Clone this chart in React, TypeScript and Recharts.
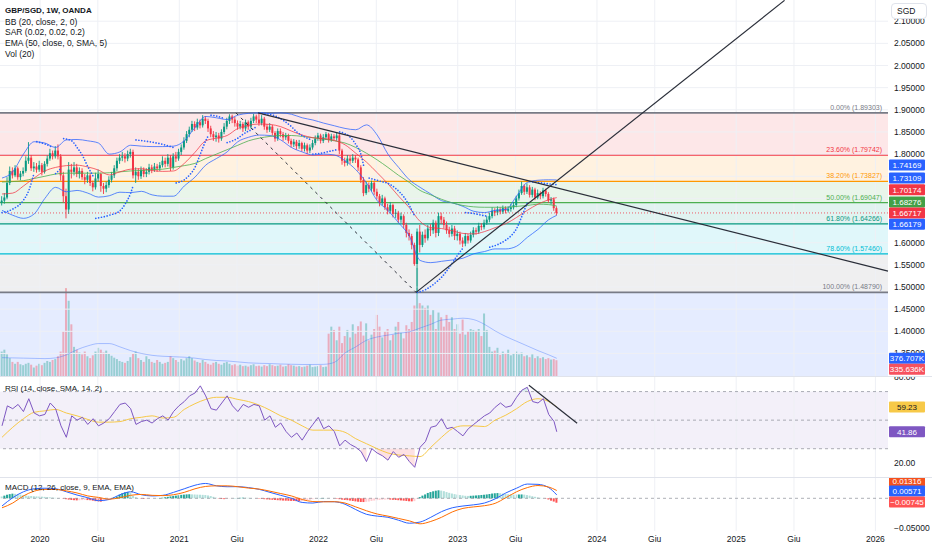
import React from 'react';
import { ComposedChart, Bar, Line, Area, XAxis, YAxis, ReferenceLine, ReferenceArea } from 'recharts';

const FONT = "'Liberation Sans', Arial, sans-serif";
const TEXT = '#131722';
const UP = '#089981';
const DOWN = '#f23645';
const BLUE = '#2962ff';

// weekly GBP/SGD candles, late Sep 2019 -> mid Sep 2023 (open = previous close)
const firstOpen = 1.69;
const closes = [
  1.695, 1.702, 1.735, 1.762, 1.752, 1.768, 1.748, 1.756, 1.762, 1.785,
  1.792, 1.768, 1.772, 1.765, 1.775, 1.760, 1.778, 1.790, 1.802, 1.795,
  1.808, 1.795, 1.752, 1.705, 1.675, 1.765, 1.760, 1.770, 1.755, 1.762,
  1.748, 1.742, 1.752, 1.735, 1.725, 1.745, 1.755, 1.728, 1.722, 1.730,
  1.742, 1.752, 1.768, 1.785, 1.792, 1.795, 1.790, 1.800, 1.805, 1.752,
  1.760, 1.750, 1.765, 1.755, 1.760, 1.770, 1.765, 1.772, 1.768, 1.775,
  1.785, 1.778, 1.792, 1.770, 1.795, 1.790, 1.805, 1.815, 1.830, 1.845,
  1.855, 1.868, 1.860, 1.872, 1.865, 1.880, 1.875, 1.858, 1.845, 1.838,
  1.842, 1.835, 1.850, 1.862, 1.875, 1.885, 1.878, 1.870, 1.862, 1.868,
  1.858, 1.872, 1.862, 1.875, 1.885, 1.878, 1.870, 1.880, 1.862, 1.855,
  1.862, 1.848, 1.835, 1.852, 1.845, 1.838, 1.842, 1.830, 1.822, 1.828,
  1.818, 1.825, 1.812, 1.820, 1.808, 1.815, 1.825, 1.835, 1.842, 1.830,
  1.838, 1.845, 1.832, 1.840, 1.836, 1.842, 1.808, 1.785, 1.780, 1.790,
  1.785, 1.792, 1.788, 1.770, 1.742, 1.712, 1.730, 1.722, 1.735, 1.715,
  1.705, 1.690, 1.700, 1.680, 1.672, 1.685, 1.665, 1.668, 1.652, 1.660,
  1.640, 1.622, 1.615, 1.595, 1.552, 1.625, 1.595, 1.618, 1.610, 1.632,
  1.628, 1.645, 1.622, 1.660, 1.652, 1.640, 1.628, 1.620, 1.632, 1.615,
  1.620, 1.605, 1.598, 1.615, 1.605, 1.618, 1.628, 1.625, 1.638, 1.635,
  1.645, 1.652, 1.660, 1.672, 1.668, 1.675, 1.670, 1.678, 1.672, 1.676,
  1.680, 1.685, 1.700, 1.712, 1.728, 1.715, 1.725, 1.708, 1.720, 1.702,
  1.712, 1.705, 1.718, 1.710, 1.695, 1.698, 1.678, 1.66717,
];
const highs = [
  1.705, 1.712, 1.748, 1.772, 1.770, 1.775, 1.772, 1.762, 1.770, 1.795,
  1.827, 1.798, 1.782, 1.780, 1.785, 1.780, 1.784, 1.797, 1.812, 1.808,
  1.818, 1.822, 1.800, 1.760, 1.722, 1.782, 1.778, 1.782, 1.778, 1.770,
  1.768, 1.755, 1.760, 1.756, 1.740, 1.758, 1.765, 1.758, 1.735, 1.738,
  1.750, 1.760, 1.775, 1.792, 1.800, 1.805, 1.802, 1.808, 1.812, 1.810,
  1.770, 1.768, 1.772, 1.770, 1.768, 1.778, 1.776, 1.780, 1.778, 1.782,
  1.795, 1.792, 1.800, 1.798, 1.802, 1.805, 1.812, 1.822, 1.838, 1.852,
  1.862, 1.875, 1.874, 1.880, 1.878, 1.888, 1.886, 1.880, 1.864, 1.852,
  1.850, 1.848, 1.856, 1.870, 1.882, 1.890, 1.889, 1.884, 1.876, 1.875,
  1.872, 1.878, 1.876, 1.882, 1.891, 1.889, 1.893, 1.888, 1.884, 1.868,
  1.870, 1.866, 1.852, 1.858, 1.858, 1.850, 1.848, 1.846, 1.835, 1.834,
  1.832, 1.832, 1.828, 1.826, 1.824, 1.822, 1.832, 1.842, 1.848, 1.846,
  1.845, 1.850, 1.848, 1.846, 1.845, 1.848, 1.846, 1.812, 1.792, 1.798,
  1.796, 1.800, 1.798, 1.792, 1.775, 1.748, 1.738, 1.736, 1.740, 1.738,
  1.722, 1.710, 1.708, 1.704, 1.688, 1.692, 1.688, 1.676, 1.672, 1.668,
  1.664, 1.645, 1.630, 1.620, 1.600, 1.632, 1.640, 1.625, 1.630, 1.640,
  1.642, 1.652, 1.650, 1.668, 1.668, 1.658, 1.648, 1.636, 1.640, 1.638,
  1.628, 1.625, 1.612, 1.622, 1.620, 1.625, 1.635, 1.634, 1.645, 1.644,
  1.652, 1.660, 1.668, 1.680, 1.678, 1.682, 1.680, 1.684, 1.682, 1.682,
  1.688, 1.692, 1.706, 1.720, 1.738, 1.732, 1.734, 1.730, 1.726, 1.724,
  1.720, 1.716, 1.724, 1.722, 1.714, 1.703, 1.702, 1.682,
];
const lows = [
  1.684, 1.688, 1.698, 1.730, 1.745, 1.748, 1.742, 1.741, 1.750, 1.758,
  1.778, 1.762, 1.760, 1.758, 1.760, 1.752, 1.756, 1.772, 1.785, 1.788,
  1.790, 1.788, 1.740, 1.690, 1.655, 1.665, 1.745, 1.752, 1.748, 1.745,
  1.742, 1.732, 1.735, 1.728, 1.716, 1.720, 1.738, 1.715, 1.710, 1.714,
  1.724, 1.736, 1.746, 1.762, 1.778, 1.784, 1.781, 1.784, 1.792, 1.745,
  1.735, 1.742, 1.744, 1.748, 1.748, 1.754, 1.757, 1.760, 1.760, 1.762,
  1.770, 1.770, 1.772, 1.762, 1.765, 1.782, 1.785, 1.798, 1.810, 1.825,
  1.838, 1.850, 1.852, 1.855, 1.858, 1.860, 1.868, 1.850, 1.838, 1.830,
  1.828, 1.826, 1.830, 1.845, 1.856, 1.868, 1.870, 1.862, 1.855, 1.856,
  1.850, 1.852, 1.855, 1.858, 1.870, 1.870, 1.864, 1.865, 1.855, 1.848,
  1.850, 1.842, 1.828, 1.830, 1.838, 1.830, 1.832, 1.824, 1.815, 1.816,
  1.810, 1.812, 1.806, 1.806, 1.800, 1.802, 1.810, 1.820, 1.830, 1.824,
  1.825, 1.832, 1.826, 1.828, 1.830, 1.830, 1.800, 1.776, 1.772, 1.774,
  1.778, 1.780, 1.780, 1.762, 1.735, 1.705, 1.708, 1.714, 1.716, 1.708,
  1.698, 1.682, 1.684, 1.674, 1.664, 1.666, 1.657, 1.656, 1.645, 1.645,
  1.632, 1.612, 1.605, 1.585, 1.548, 1.4879, 1.578, 1.590, 1.600, 1.605,
  1.615, 1.620, 1.612, 1.615, 1.642, 1.632, 1.620, 1.612, 1.614, 1.606,
  1.605, 1.596, 1.590, 1.592, 1.598, 1.600, 1.612, 1.618, 1.620, 1.628,
  1.630, 1.640, 1.646, 1.655, 1.660, 1.662, 1.664, 1.665, 1.666, 1.668,
  1.670, 1.675, 1.680, 1.695, 1.708, 1.708, 1.710, 1.702, 1.702, 1.696,
  1.698, 1.698, 1.700, 1.704, 1.690, 1.686, 1.672, 1.662,
];
// weekly volume, thousands
const volumes = [
  520, 560, 460, 380, 300, 260, 300, 250, 230, 260, 280, 240, 180, 220, 260, 230, 280, 320, 300, 340, 360, 420, 520,
  950, 1870, 1600, 1100,
  620, 560, 500, 460, 520, 420,
  380, 440, 520, 600, 560, 500,
  540, 480, 430, 390, 360, 320, 300,
  280, 320, 400, 480, 520,
  380, 340, 300, 420, 360, 300, 280, 340, 300, 260,
  280, 300, 420, 380, 340, 300, 360, 330, 380, 420,
  380, 330, 300, 280, 340, 300, 260, 240, 280, 300,
  260, 240, 280, 300, 260, 230, 250, 220, 240, 210,
  220, 200, 230, 250, 210, 220, 200, 230, 210, 250,
  230, 210, 220, 240, 200, 210, 250, 230, 220, 200,
  210, 190, 200, 220, 240, 190, 200, 210, 230, 190, 200,
  900, 1050, 980, 760,
  1050, 700, 850, 980, 820, 1100, 900, 1060, 1160, 860,
  1120, 760, 880, 1000, 1300, 1050, 820, 950, 1000, 760,
  880, 1050, 1150, 920, 800, 1080, 1000, 1150,
  1500, 2300,
  1550, 1500, 1450, 1500, 1300,
  1400, 1000, 1350, 1250, 1050, 1300,
  1150, 1250, 1000, 1100, 900, 1200,
  880, 950, 1000, 980, 960, 1000,
  850, 1330, 980,
  620, 520, 540, 600, 450, 520, 480, 560, 440,
  480, 520, 460, 500, 420, 440, 400, 460, 380, 420,
  380, 400, 360, 380, 350, 360, 335.636,
];
// weekly MACD histogram, x 1e-4
const macdHist = [
  30, 45, 60, 70, 78, 75, 70, 62, 55, 48, 42, 38, 35, 32, 30, 28, 24, 20, 16, 12, 8, 5, 0, -6,
  -15, -22, -28, -32, -35, -33, -30, -28, -30, -32, -40, -48, -55, -57, -50,
  -35, -18, 0, 15, 28, 60, 85, 100, 105, 95, 40, 20, 5, -5, -10,
  -8, -5, -3, 0, 2, 5, 10, 18, 25, 32, 40, 45, 52, 58, 62,
  66, 68, 66, 64, 62, 60, 58, 55, 48, 38, 25, 10, -5, -12, -14,
  -10, -5, 0, 3, 5, 8, 10, 10, 8, 5, 2, -2, -6, -10, -15,
  -18, -22, -25, -28, -32, -35, -38, -40, -42, -44, -45, -48, -50, -48, -42,
  -35, -25, -15, -5, 2, 5, 6, 4, 2, 0, -3, -8, -15, -22, -28,
  -32, -38, -45, -52, -58, -62, -63, -60, -55, -45, -38, -32, -28, -25, -22,
  -20, -22, -25, -28, -32, -36, -40, -45, -50, -52, -48, -10, 20, 45, 65,
  90, 105, 118, 128, 135, 130, 120, 105, 92, 80, 70, 62, 55, 48, 42,
  40, 42, 45, 48, 52, 56, 60, 65, 72, 80, 85, 88, 85, 80, 72,
  68, 64, 62, 62, 64, 65, 62, 55, 45, 35, 25, 15, 8, 2, -5,
  -20, -40, -55, -74.5,
];

// indicator readings sampled every 4 weeks (weeks 0, 4, ... 204, then the last bar)
const bbUpper = [
  1.746, 1.760, 1.800, 1.828, 1.825, 1.815, 1.832, 1.833, 1.830, 1.825,
  1.800, 1.805, 1.820, 1.818, 1.817, 1.817, 1.818, 1.830, 1.860, 1.885,
  1.882, 1.878, 1.888, 1.892, 1.893, 1.892, 1.893, 1.890, 1.882, 1.877,
  1.870, 1.864, 1.858, 1.855, 1.866, 1.843, 1.800, 1.770, 1.742, 1.725,
  1.710, 1.695, 1.690, 1.682, 1.671, 1.668, 1.673, 1.675, 1.705, 1.736,
  1.741, 1.742, 1.74169,
];
const bbBasis = [
  1.710, 1.712, 1.728, 1.746, 1.762, 1.770, 1.774, 1.775, 1.771, 1.764,
  1.753, 1.760, 1.766, 1.767, 1.763, 1.761, 1.762, 1.779, 1.804, 1.830,
  1.836, 1.842, 1.858, 1.865, 1.868, 1.867, 1.862, 1.852, 1.843, 1.837,
  1.835, 1.831, 1.821, 1.802, 1.782, 1.758, 1.733, 1.705, 1.679, 1.648,
  1.634, 1.632, 1.627, 1.621, 1.620, 1.625, 1.634, 1.643, 1.657, 1.673,
  1.687, 1.697, 1.70174,
];
const bbLower = [
  1.673, 1.662, 1.655, 1.665, 1.700, 1.725, 1.715, 1.718, 1.712, 1.703,
  1.706, 1.714, 1.713, 1.716, 1.708, 1.705, 1.705, 1.728, 1.748, 1.775,
  1.790, 1.805, 1.828, 1.838, 1.843, 1.842, 1.832, 1.815, 1.805, 1.798,
  1.800, 1.798, 1.785, 1.765, 1.735, 1.695, 1.673, 1.645, 1.615, 1.560,
  1.555, 1.558, 1.561, 1.565, 1.575, 1.580, 1.586, 1.586, 1.592, 1.612,
  1.630, 1.652, 1.66179,
];
const ema50 = [
  1.737, 1.738, 1.740, 1.745, 1.750, 1.755, 1.757, 1.757, 1.757, 1.757,
  1.758, 1.760, 1.762, 1.763, 1.765, 1.766, 1.770, 1.774, 1.779, 1.790,
  1.800, 1.810, 1.820, 1.830, 1.836, 1.840, 1.842, 1.842, 1.840, 1.837,
  1.834, 1.830, 1.825, 1.815, 1.802, 1.787, 1.770, 1.752, 1.736, 1.718,
  1.708, 1.698, 1.690, 1.684, 1.681, 1.680, 1.680, 1.680, 1.682, 1.684,
  1.687, 1.686, 1.68276,
];
const volMa = [
  390, 385, 380, 375, 370, 385, 450, 560, 640, 690,
  690, 620, 540, 480, 440, 420, 410, 400, 380, 350,
  330, 320, 300, 280, 270, 265, 255, 250, 245, 245,
  248, 290, 490, 620, 760, 830, 870, 910, 940, 1020,
  1100, 1190, 1210, 1230, 1200, 1100, 960, 840, 740, 640,
  540, 450, 376.707,
];
const rsiMa = [
  38, 45, 51, 55.5, 56.5, 57.5, 55, 53, 50.5, 48.6,
  48.6, 49, 51, 52, 53, 51.5, 52, 57.5, 61.5, 64.5,
  66, 66, 64.5, 63, 60.5, 57, 53, 50, 46, 43,
  43, 43, 41.5, 37, 33.5, 30, 27, 25.6, 25, 24.5,
  31, 38, 44, 46, 46, 45.5, 50, 53.5, 58, 63,
  65, 63, 59.23,
];
const macdLine = [
  -0.013, 0.001, 0.011, 0.016, 0.017, 0.016, 0.011, 0.0055, 0.001, -0.004,
  -0.002, 0.006, 0.011, 0.006, 0.004, 0.005, 0.010, 0.016, 0.022, 0.025,
  0.021, 0.0195, 0.0196, 0.018, 0.015, 0.010, 0.005, 0.000, -0.007, -0.008,
  -0.0055, -0.0058, -0.010, -0.019, -0.027, -0.030, -0.032, -0.037, -0.042, -0.040,
  -0.032, -0.0225, -0.016, -0.013, -0.011, -0.008, -0.001, 0.009, 0.017, 0.024,
  0.0235, 0.018, 0.00571,
];
const signalLine = [
  -0.016, -0.008, 0.004, 0.012, 0.015, 0.015, 0.0125, 0.009, 0.004, 0.0015,
  -0.0015, 0.001, 0.005, 0.0065, 0.005, 0.0045, 0.006, 0.010, 0.016, 0.020,
  0.021, 0.021, 0.0195, 0.0172, 0.0155, 0.012, 0.008, 0.004, -0.002, -0.0055,
  -0.006, -0.0057, -0.008, -0.0145, -0.021, -0.0265, -0.030, -0.034, -0.038, -0.043,
  -0.039, -0.032, -0.023, -0.017, -0.0145, -0.0125, -0.0085, 0.001, 0.011, 0.018,
  0.0215, 0.019, 0.01316,
];
// RSI sampled every 2 weeks (weeks 0, 2, ... 206, then the last bar)
const rsi = [
  46, 60, 58, 61, 56, 65, 55, 53, 54, 62,
  58, 46, 38, 53, 50, 52, 47, 51, 46, 48,
  51, 56, 61, 62, 58, 47, 49, 50, 48, 51,
  53, 50, 56, 60, 63, 67, 69, 74, 67, 58,
  57, 62, 67, 60, 56, 61, 59, 61, 60, 50,
  53, 45, 48, 42, 38, 41, 36, 42, 47, 52,
  44, 46, 42, 32, 36, 33, 31, 28, 21, 30,
  27, 25, 22, 28, 24, 26, 21, 17, 31, 35,
  45, 46, 51, 44, 45, 42, 39, 44, 47, 50,
  53, 55, 59, 62, 59, 60, 66, 71, 73, 63,
  62, 65, 54, 49, 41.86,
];

// parabolic SAR runs: [week, value]
const sarSegments: [number, number][][] = [
  [[0, 1.668], [4, 1.676], [8, 1.696], [10, 1.718], [12, 1.758]],
  [[13, 1.828], [16, 1.823], [19, 1.815]],
  [[20, 1.756], [22, 1.768]],
  [[23, 1.835], [26, 1.830], [28, 1.815], [30, 1.797], [32, 1.772], [34, 1.750]],
  [[35, 1.655], [40, 1.662], [44, 1.672], [46, 1.688], [48, 1.712], [49, 1.730]],
  [[50, 1.832], [55, 1.828], [60, 1.822], [64, 1.815]],
  [[65, 1.735], [68, 1.742], [70, 1.753], [72, 1.770], [74, 1.800], [76, 1.830], [77, 1.842]],
  [[78, 1.888], [80, 1.886], [83, 1.880]],
  [[84, 1.826], [86, 1.830], [88, 1.836], [90, 1.845], [92, 1.852], [94, 1.858], [95, 1.863]],
  [[96, 1.893], [99, 1.891], [102, 1.886], [105, 1.876], [108, 1.862], [110, 1.850], [112, 1.842], [115, 1.833]],
  [[116, 1.800], [119, 1.802], [122, 1.806], [125, 1.810]],
  [[126, 1.850], [128, 1.846], [130, 1.838], [132, 1.822], [134, 1.798], [135, 1.772]],
  [[137, 1.746], [141, 1.739], [144, 1.734], [147, 1.722], [150, 1.703], [152, 1.684], [154, 1.660]],
  [[155, 1.4879], [158, 1.494], [161, 1.506], [164, 1.522], [167, 1.545], [170, 1.572], [172, 1.588]],
  [[173, 1.668], [176, 1.666], [179, 1.662], [181, 1.660]],
  [[182, 1.590], [185, 1.596], [188, 1.606], [190, 1.616], [192, 1.632], [194, 1.660], [196, 1.690]],
  [[197, 1.738], [200, 1.736], [203, 1.7335], [207, 1.73109]],
];

// Fibonacci retracement
const fibPercents = ['0.00%', '23.60%', '38.20%', '50.00%', '61.80%', '78.60%', '100.00%'];
const fibPrices = [1.89303, 1.79742, 1.73827, 1.69047, 1.64266, 1.5746, 1.4879];

// drawn trend lines: [week, value]
const resistanceLine: [number, number][] = [[95.5, 1.893], [330.6, 1.536]];
const supportLine: [number, number][] = [[154.5, 1.4879], [292, 2.147]];
const fibDiagonal: [number, number][] = [[87.3, 1.89303], [154.5, 1.4879]];
const rsiTrend: [number, number][] = [[196.6, 74.4], [214.6, 47.8]];

// price labels left visible beside the value badges
const priceTicks = [1.35, 1.4, 1.45, 1.5, 1.55, 1.6, 1.8, 1.85, 1.9, 1.95, 2.0, 2.05, 2.1];
const priceGrid = [1.35, 1.4, 1.45, 1.5, 1.55, 1.6, 1.65, 1.7, 1.75, 1.8, 1.85, 1.9, 1.95, 2.0, 2.05, 2.1];
const timeLabels = ['2020', 'Giu', '2021', 'Giu', '2022', 'Giu', '2023', 'Giu', '2024', 'Giu', '2025', 'Giu', '2026'];
const timeYears = [2020, 2020.415, 2021, 2021.415, 2022, 2022.415, 2023, 2023.415, 2024, 2024.415, 2025, 2025.415, 2026];

// ---- layout
const WEEK_OF_2020 = 14.2;
const WEEKS_PER_YEAR = 51.95;
const X_DOMAIN: [number, number] = [-0.75, 330.6];
const PRICE_DOMAIN: [number, number] = [1.2991, 2.1479];
const VOL_DOMAIN: [number, number] = [0, 8000];
const RSI_DOMAIN: [number, number] = [10.2, 80.2];
const MACD_DOMAIN: [number, number] = [-0.0551, 0.0342];
const BADGE_X = 889;
const fibColors = ['#787b86', '#f23645', '#ff9800', '#4caf50', '#089981', '#00bcd4', '#787b86'];

const last = <T,>(a: T[]) => a[a.length - 1];
const LAST = closes.length - 1;
const gridWeeks = (step: number) => {
  const out: number[] = [];
  for (let w = 0; w < LAST; w += step) out.push(w);
  out.push(LAST);
  return out;
};
const weeks4 = gridWeeks(4);
const weeks2 = gridWeeks(2);
const timeTickWeeks = timeYears.map((t) => WEEK_OF_2020 + (t - 2020) * WEEKS_PER_YEAR);
const minus = (s: string) => s.replace('-', '\u2212');

const mainRows: any[] = closes.map((c, i) => {
  const open = i === 0 ? firstOpen : closes[i - 1];
  return { w: i, open, close: c, high: highs[i], low: lows[i], range: [lows[i], highs[i]], volume: volumes[i] };
});
weeks4.forEach((w, k) => {
  Object.assign(mainRows[w], { bbUpper: bbUpper[k], bbBasis: bbBasis[k], bbLower: bbLower[k], ema: ema50[k], volMa: volMa[k] });
});
sarSegments.forEach((seg, s) => seg.forEach(([w, v]) => { mainRows[w]['sar' + s] = v; }));

const rsiRows = weeks2.map((w, k) => {
  const r = rsi[k];
  const k4 = weeks4.indexOf(w);
  return {
    w,
    rsi: r,
    rsiMa: k4 >= 0 ? rsiMa[k4] : undefined,
    oversold: r < 30 ? [r, 30] : undefined,
    overbought: r > 70 ? [70, r] : undefined,
  };
});

const macdRows: any[] = macdHist.map((h, i) => {
  const prev = i === 0 ? h : macdHist[i - 1];
  const color = h >= 0 ? (h > prev ? '#26a69a' : '#b2dfdb') : (h > prev ? '#ffcdd2' : '#ff5252');
  return { w: i, hist: h / 10000, color };
});
weeks4.forEach((w, k) => Object.assign(macdRows[w], { macd: macdLine[k], signal: signalLine[k] }));

const priceBadges = [
  { value: last(bbUpper), fill: BLUE, dy: -15 },
  { value: last(last(sarSegments))[1], fill: BLUE, dy: -6.6 },
  { value: last(bbBasis), fill: '#f23645', dy: -8 },
  { value: last(ema50), fill: '#43a047', dy: -4 },
  { value: last(closes), fill: '#f23645', dy: 0 },
  { value: last(bbLower), fill: BLUE, dy: 9 },
].map((b) => ({ ...b, label: b.value.toFixed(5), color: '#fff' }));
const volBadges = [
  { value: last(volMa), fill: BLUE, dy: 0 },
  { value: last(volumes), fill: '#f7525f', dy: 9 },
].map((b) => ({ ...b, label: b.value.toFixed(3) + 'K', color: '#fff' }));
const rsiBadges = [
  { value: last(rsiMa), fill: '#f7c948', dy: 0, color: TEXT },
  { value: last(rsi), fill: '#7e57c2', dy: 0, color: '#fff' },
].map((b) => ({ ...b, label: b.value.toFixed(2) }));
const macdBadges = [
  { value: last(signalLine), fill: '#f4511e', dy: -9.5 },
  { value: last(macdLine), fill: BLUE, dy: -4 },
  { value: last(macdHist) / 10000, fill: '#ff5252', dy: -0.7 },
].map((b) => ({ ...b, label: minus(b.value.toFixed(5)), color: '#fff' }));

type BadgeDef = { value: number; fill: string; dy: number; label: string; color: string };

const makePlainTick = (fmt: (v: number) => string) => (props: any) => {
  const { x, y, payload } = props;
  return (
    <text x={x + 6} y={y} dy={3} fontSize={8.5} fill={TEXT} fontFamily={FONT}>
      {fmt(payload.value)}
    </text>
  );
};

const makeBadgeTick = (badges: BadgeDef[]) => (props: any) => {
  const { y, payload } = props;
  const b = badges.find((d) => Math.abs(d.value - payload.value) < 1e-9);
  if (!b) return <g />;
  const cy = y + b.dy;
  return (
    <g>
      <rect x={BADGE_X} y={cy - 5.5} width={36} height={11} rx={1} fill={b.fill} />
      <text x={BADGE_X + 18} y={cy} dy={3} textAnchor="middle" fontSize={8} fill={b.color} fontFamily={FONT}>
        {b.label}
      </text>
    </g>
  );
};

const TimeTick = (props: any) => {
  const { x, y, payload } = props;
  const idx = timeTickWeeks.findIndex((v) => Math.abs(v - payload.value) < 1e-6);
  return (
    <text x={x} y={y} dy={9} textAnchor="middle" fontSize={8.5} fill={TEXT} fontFamily={FONT}>
      {timeLabels[idx]}
    </text>
  );
};

const Candle = (props: any) => {
  const { x, width, payload } = props;
  let { y, height } = props;
  if (height < 0) {
    y += height;
    height = -height;
  }
  const { open, close, high, low } = payload;
  const k = height / (high - low);
  const cx = x + width / 2;
  const top = y + (high - Math.max(open, close)) * k;
  const bh = Math.max(0.8, Math.abs(close - open) * k);
  const color = close >= open ? UP : DOWN;
  return (
    <g>
      <line x1={cx} x2={cx} y1={y} y2={y + height} stroke={color} strokeWidth={0.9} />
      <rect x={cx - 1} y={top} width={2} height={bh} fill={color} />
    </g>
  );
};

const VolumeBar = (props: any) => {
  const { x, y, width, height, payload } = props;
  const up = payload.close >= payload.open;
  return <rect x={x} y={y} width={width} height={Math.max(0, height)} fill={up ? UP : DOWN} fillOpacity={0.35} />;
};

const HistBar = (props: any) => {
  const { x, width, payload } = props;
  let { y, height } = props;
  if (height < 0) {
    y += height;
    height = -height;
  }
  return <rect x={x} y={y} width={width} height={height} fill={payload.color} />;
};

const fibLabel = (i: number) => (props: any) => {
  const vb = props.viewBox || {};
  return (
    <text x={vb.x + vb.width - 6} y={vb.y - 3} textAnchor="end" fontSize={7} fill={fibColors[i]} fontFamily={FONT}>
      {`${fibPercents[i]} (${fibPrices[i].toFixed(5)})`}
    </text>
  );
};

const seg = (pts: [number, number][]) => pts.map(([x, y]) => ({ x, y }));

const timeGrid = (yAxisId: string) =>
  timeTickWeeks.map((w) => (
    <ReferenceLine key={'tg' + w} x={w} yAxisId={yAxisId} stroke="#eef0f5" strokeWidth={1} />
  ));

const layer: React.CSSProperties = { position: 'absolute', left: 0 };

const App = () => {
  return (
    <div style={{ position: 'absolute', left: 0, top: 0, width: 932, height: 550, background: '#fff', fontFamily: FONT, overflow: 'hidden' }}>
      {/* main pane background: fib zones, grid, volume */}
      <div style={{ ...layer, top: 0 }}>
        <ComposedChart width={932} height={376} data={mainRows} margin={{ top: 0, right: 0, bottom: 0, left: 0 }}>
          <XAxis dataKey="w" type="number" domain={X_DOMAIN} allowDataOverflow hide />
          <YAxis
            yAxisId="p"
            orientation="right"
            width={44}
            domain={PRICE_DOMAIN}
            allowDataOverflow
            ticks={priceTicks}
            interval={0}
            tick={makePlainTick((v) => v.toFixed(5))}
            tickSize={0}
            tickMargin={0}
            axisLine={false}
            tickLine={false}
          />
          <YAxis yAxisId="v" hide domain={VOL_DOMAIN} allowDataOverflow />
          {priceGrid.map((t) => (
            <ReferenceLine key={'pg' + t} yAxisId="p" y={t} stroke="#eef0f5" />
          ))}
          {timeGrid('p')}
          {fibPrices.slice(0, -1).map((p, i) => (
            <ReferenceArea
              key={'fz' + i}
              yAxisId="p"
              y1={fibPrices[i + 1]}
              y2={p}
              fill={fibColors[i + 1]}
              fillOpacity={0.12}
              stroke="none"
            />
          ))}
          <ReferenceArea yAxisId="p" y1={PRICE_DOMAIN[0]} y2={last(fibPrices)} fill={BLUE} fillOpacity={0.12} stroke="none" />
          {fibPrices.map((p, i) => (
            <ReferenceLine
              key={'fl' + i}
              yAxisId="p"
              y={p}
              stroke={fibColors[i]}
              strokeWidth={i === 0 || i === fibPrices.length - 1 ? 1.8 : 1.2}
              label={fibLabel(i)}
            />
          ))}
          <Bar yAxisId="v" dataKey="volume" barSize={2} shape={VolumeBar} isAnimationActive={false} />
          <Line
            yAxisId="v"
            dataKey="volMa"
            type="monotone"
            stroke={BLUE}
            strokeOpacity={0.35}
            strokeWidth={1}
            dot={false}
            activeDot={false}
            connectNulls
            isAnimationActive={false}
          />
        </ComposedChart>
      </div>

      {/* main pane foreground: candles and overlays */}
      <div style={{ ...layer, top: 0 }}>
        <ComposedChart width={932} height={376} data={mainRows} margin={{ top: 0, right: 0, bottom: 0, left: 0 }}>
          <XAxis dataKey="w" type="number" domain={X_DOMAIN} allowDataOverflow hide />
          <YAxis yAxisId="p" orientation="right" width={42} domain={PRICE_DOMAIN} allowDataOverflow tick={false} axisLine={false} tickLine={false} />
          <YAxis
            yAxisId="pb"
            orientation="right"
            width={1}
            domain={PRICE_DOMAIN}
            allowDataOverflow
            ticks={priceBadges.map((b) => b.value)}
            interval={0}
            tick={makeBadgeTick(priceBadges)}
            tickSize={0}
            tickMargin={0}
            axisLine={false}
            tickLine={false}
          />
          <YAxis
            yAxisId="vb"
            orientation="right"
            width={1}
            domain={VOL_DOMAIN}
            allowDataOverflow
            ticks={volBadges.map((b) => b.value)}
            interval={0}
            tick={makeBadgeTick(volBadges)}
            tickSize={0}
            tickMargin={0}
            axisLine={false}
            tickLine={false}
          />
          <ReferenceLine yAxisId="p" y={last(closes)} stroke="#f23645" strokeOpacity={0.8} strokeDasharray="1 2" />
          {(['bbUpper', 'bbLower'] as const).map((k) => (
            <Line key={k} yAxisId="p" dataKey={k} type="monotone" stroke={BLUE} strokeOpacity={0.75} strokeWidth={1}
              dot={false} activeDot={false} connectNulls isAnimationActive={false} />
          ))}
          <Line yAxisId="p" dataKey="ema" type="monotone" stroke="#4caf50" strokeOpacity={0.8} strokeWidth={1}
            dot={false} activeDot={false} connectNulls isAnimationActive={false} />
          <Line yAxisId="p" dataKey="bbBasis" type="monotone" stroke="#f23645" strokeOpacity={0.75} strokeWidth={1}
            dot={false} activeDot={false} connectNulls isAnimationActive={false} />
          {sarSegments.map((_, s) => (
            <Line key={'sar' + s} yAxisId="p" dataKey={'sar' + s} type="monotone" stroke={BLUE} strokeWidth={1.7}
              strokeDasharray="0 2.9" strokeLinecap="round" dot={false} activeDot={false} connectNulls isAnimationActive={false} />
          ))}
          <Bar yAxisId="p" dataKey="range" barSize={2} shape={Candle} isAnimationActive={false} />
          <ReferenceLine yAxisId="p" segment={seg(fibDiagonal)} stroke="#2a2e39" strokeWidth={1} strokeDasharray="3 4" />
          <ReferenceLine yAxisId="p" segment={seg(resistanceLine)} stroke="#2a2e39" strokeWidth={1.2} />
          <ReferenceLine yAxisId="p" segment={seg(supportLine)} stroke="#2a2e39" strokeWidth={1.2} />
        </ComposedChart>
      </div>

      {/* RSI pane */}
      <div style={{ ...layer, top: 377 }}>
        <ComposedChart width={932} height={100} data={rsiRows} margin={{ top: 0, right: 0, bottom: 0, left: 0 }}>
          <XAxis dataKey="w" type="number" domain={X_DOMAIN} allowDataOverflow hide />
          <YAxis
            yAxisId="r"
            orientation="right"
            width={43}
            domain={RSI_DOMAIN}
            allowDataOverflow
            ticks={[20, 80]}
            interval={0}
            tick={makePlainTick((v) => v.toFixed(2))}
            tickSize={0}
            tickMargin={0}
            axisLine={false}
            tickLine={false}
          />
          <YAxis
            yAxisId="rb"
            orientation="right"
            width={1}
            domain={RSI_DOMAIN}
            allowDataOverflow
            ticks={rsiBadges.map((b) => b.value)}
            interval={0}
            tick={makeBadgeTick(rsiBadges)}
            tickSize={0}
            tickMargin={0}
            axisLine={false}
            tickLine={false}
          />
          {timeGrid('r')}
          <ReferenceArea yAxisId="r" y1={30} y2={70} fill="#7e57c2" fillOpacity={0.09} stroke="none" />
          {[70, 50, 30].map((v) => (
            <ReferenceLine key={'rl' + v} yAxisId="r" y={v} stroke="#787b86" strokeOpacity={0.6} strokeDasharray="3 3" />
          ))}
          <Area yAxisId="r" dataKey="oversold" stroke="none" fill="#f23645" fillOpacity={0.15} isAnimationActive={false} />
          <Area yAxisId="r" dataKey="overbought" stroke="none" fill="#089981" fillOpacity={0.15} isAnimationActive={false} />
          <Line yAxisId="r" dataKey="rsiMa" type="monotone" stroke="#f7c948" strokeWidth={1} dot={false} activeDot={false}
            connectNulls isAnimationActive={false} />
          <Line yAxisId="r" dataKey="rsi" type="linear" stroke="#7e57c2" strokeWidth={1} dot={false} activeDot={false}
            isAnimationActive={false} />
          <ReferenceLine yAxisId="r" segment={seg(rsiTrend)} stroke="#2a2e39" strokeWidth={1.2} />
        </ComposedChart>
      </div>

      {/* MACD pane + time axis */}
      <div style={{ ...layer, top: 478 }}>
        <ComposedChart width={932} height={72} data={macdRows} margin={{ top: 0, right: 0, bottom: 0, left: 0 }}>
          <XAxis
            dataKey="w"
            type="number"
            domain={X_DOMAIN}
            allowDataOverflow
            height={19}
            ticks={timeTickWeeks}
            interval={0}
            tick={TimeTick}
            axisLine={false}
            tickLine={false}
            tickSize={0}
          />
          <YAxis
            yAxisId="m"
            orientation="right"
            width={43}
            domain={MACD_DOMAIN}
            allowDataOverflow
            ticks={[-0.05]}
            interval={0}
            tick={makePlainTick((v) => minus(v.toFixed(5)))}
            tickSize={0}
            tickMargin={0}
            axisLine={false}
            tickLine={false}
          />
          <YAxis
            yAxisId="mb"
            orientation="right"
            width={1}
            domain={MACD_DOMAIN}
            allowDataOverflow
            ticks={macdBadges.map((b) => b.value)}
            interval={0}
            tick={makeBadgeTick(macdBadges)}
            tickSize={0}
            tickMargin={0}
            axisLine={false}
            tickLine={false}
          />
          {timeGrid('m')}
          <ReferenceLine yAxisId="m" y={0} stroke="#787b86" strokeOpacity={0.6} strokeDasharray="3 3" />
          <Bar yAxisId="m" dataKey="hist" barSize={2} shape={HistBar} isAnimationActive={false} />
          <Line yAxisId="m" dataKey="macd" type="monotone" stroke={BLUE} strokeWidth={1} dot={false} activeDot={false}
            connectNulls isAnimationActive={false} />
          <Line yAxisId="m" dataKey="signal" type="monotone" stroke="#ff6d00" strokeWidth={1} dot={false} activeDot={false}
            connectNulls isAnimationActive={false} />
        </ComposedChart>
      </div>

      {/* pane separators */}
      <div style={{ position: 'absolute', left: 0, top: 376, width: 932, height: 1, background: '#e0e3eb' }} />
      <div style={{ position: 'absolute', left: 0, top: 477, width: 932, height: 1, background: '#e0e3eb' }} />

      {/* legends */}
      <div style={{ position: 'absolute', left: 5, top: 6, fontSize: 8.5, lineHeight: '10.7px', color: TEXT }}>
        <div style={{ fontWeight: 700, fontSize: 8 }}>GBP/SGD, 1W, OANDA</div>
        <div>BB (20, close, 2, 0)</div>
        <div>SAR (0.02, 0.02, 0.2)</div>
        <div>EMA (50, close, 0, SMA, 5)</div>
        <div>Vol (20)</div>
      </div>
      <div style={{ position: 'absolute', left: 5, top: 383, fontSize: 8, lineHeight: '11px', color: TEXT }}>
        RSI (14, close, SMA, 14, 2)
      </div>
      <div style={{ position: 'absolute', left: 5, top: 482, fontSize: 8, lineHeight: '11px', color: TEXT }}>
        MACD (12, 26, close, 9, EMA, EMA)
      </div>

      {/* currency box */}
      <div
        style={{
          position: 'absolute',
          left: 891,
          top: 3,
          width: 36,
          height: 16,
          border: '1px solid #e0e3eb',
          borderRadius: 4,
          background: '#fff',
          fontSize: 8.5,
          lineHeight: '14px',
          paddingLeft: 5,
          boxSizing: 'border-box',
          color: TEXT,
        }}
      >
        SGD
      </div>
    </div>
  );
};

export default App;
